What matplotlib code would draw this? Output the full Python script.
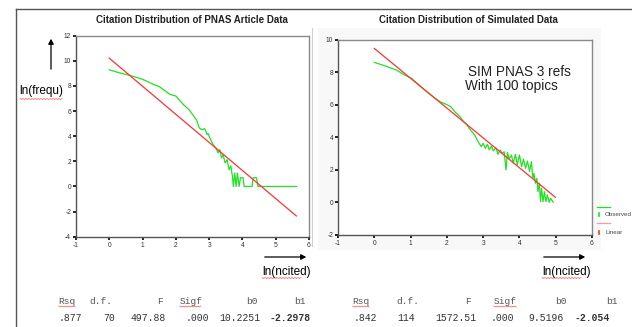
import matplotlib
matplotlib.use("Agg")
import matplotlib.pyplot as plt
from matplotlib.lines import Line2D
from matplotlib.patches import Rectangle, FancyArrowPatch
import numpy as np

# ---------------- data ----------------
left_obs_x = [0, 0.3, 0.67, 1.0, 1.32, 1.5, 1.82, 2.0, 2.22, 2.4, 2.5, 2.62, 2.7, 2.77, 2.87,
              2.94, 2.97, 3.02, 3.12, 3.2, 3.27, 3.32, 3.37, 3.42, 3.48, 3.54, 3.6, 3.65, 3.7,
              3.73, 3.77, 3.81, 3.85, 3.9, 3.94, 4.02, 4.05, 4.29, 4.32, 4.42, 4.47, 5.62]
left_obs_y = [9.28, 9.05, 8.8, 8.53, 8.13, 7.95, 7.33, 7.2, 6.53, 6.1, 5.73, 5.3, 4.67, 4.53, 4.59,
              4.13, 4.21, 3.87, 3.33, 3.07, 2.67, 2.93, 2.27, 2.53, 1.87, 2.13, 1.33, 1.65, 0.8,
              0.0, 1.07, 0.0, 1.07, 0.0, 0.69, 0.69, 0.0, 0.0, 0.69, 0.69, 0.0, 0.0]
left_lin_x = [0.0, 5.62]
left_lin_y = [10.21, -2.35]

right_obs_x = [0, 0.29, 0.61, 0.84, 1.03, 1.21, 1.39, 1.62, 1.81, 1.99, 2.11, 2.22, 2.36, 2.45,
               2.54, 2.63, 2.77, 2.86, 2.95, 3.0, 3.06, 3.12, 3.17, 3.23, 3.28, 3.35, 3.41, 3.47,
               3.52, 3.58, 3.63, 3.67, 3.72, 3.78, 3.83, 3.89, 3.94, 4.0, 4.06, 4.11, 4.17, 4.22,
               4.28, 4.33, 4.37, 4.4, 4.44, 4.48, 4.51, 4.55, 4.58, 4.61, 4.65, 4.69, 4.73, 4.77,
               4.82, 4.86, 4.93]
right_obs_y = [8.61, 8.40, 8.14, 7.83, 7.62, 7.25, 6.91, 6.5, 6.19, 6.02, 5.88, 5.57, 5.27, 5.0,
               4.8, 4.51, 4.14, 3.73, 3.42, 3.63, 3.32, 3.57, 3.22, 3.46, 3.16, 3.36, 2.95, 3.22,
               3.01, 3.11, 1.99, 3.07, 2.66, 2.91, 2.4, 2.95, 2.3, 2.91, 2.19, 2.66, 2.09, 2.54,
               1.89, 2.5, 1.48, 1.78, 1.17, 1.48, 0.66, 1.17, 0.04, 0.86, 0.04, 0.66, 0.04, 0.45,
               0.0, 0.25, 0.0]
right_lin_x = [0.0, 4.99]
right_lin_y = [9.47, 0.31]

left_title = "Citation Distribution of PNAS Article Data"
right_title = "Citation Distribution of Simulated Data"
left_yticks = [-4, -2, 0, 2, 4, 6, 8, 10, 12]
right_yticks = [-2, 0, 2, 4, 6, 8, 10]
xticks = [-1, 0, 1, 2, 3, 4, 5, 6]

table_headers = ["Rsq", "d.f.", "F", "Sigf", "b0", "b1"]
left_values = [".877", "70", "497.88", ".000", "10.2251", "-2.2978"]
right_values = [".842", "114", "1572.51", ".000", "9.5196", "-2.054"]
annotation_lines = ["SIM PNAS 3 refs", "With 100 topics"]
legend_labels = ["Observed", "Linear"]

GREEN = "#22e022"
RED = "#ff3333"

W, H = 632, 327
fig = plt.figure(figsize=(W / 100, H / 100), dpi=100)
fig.patch.set_facecolor("white")


def fx(px):
    return px / W


def fy(py):
    return 1 - py / H


def axes_box(l, r, t, b):
    return [fx(l), fy(b), fx(r) - fx(l), fy(t) - fy(b)]


# light background behind right chart
fig.add_artist(Rectangle((fx(318), fy(250)), fx(601) - fx(318), fy(28) - fy(250),
                         transform=fig.transFigure, facecolor="#f8f8f8", edgecolor="none", zorder=0))
fig.add_artist(Line2D([fx(312), fx(312)], [fy(28), fy(246)], transform=fig.transFigure,
                      color="#d0d0d0", lw=0.8))

# outer frame
fig.add_artist(Line2D([fx(16), fx(16)], [fy(9), fy(327)], transform=fig.transFigure,
                      color="#555555", lw=1.0))
fig.add_artist(Line2D([fx(16), fx(632)], [fy(9), fy(9)], transform=fig.transFigure,
                      color="#555555", lw=1.0))


def style_axes(ax, ylim, yticks):
    ax.set_facecolor("white")
    ax.set_xlim(-1, 6)
    ax.set_ylim(*ylim)
    ax.set_xticks(xticks)
    ax.set_yticks(yticks)
    ax.set_xticklabels([str(t) for t in xticks], fontsize=4.8, color="#333333",
                       family="Liberation Sans")
    ax.set_yticklabels([str(t) for t in yticks], fontsize=4.8, color="#333333",
                       family="Liberation Sans")
    ax.tick_params(axis="both", direction="out", length=2, width=1.4, color="#222222", pad=1.5)
    for s in ax.spines.values():
        s.set_color("#8a8a8a")
        s.set_linewidth(1.0)
    ax.spines["left"].set_color("#555555")
    ax.spines["bottom"].set_color("#555555")


axL = fig.add_axes(axes_box(76, 309, 35.7, 236.7))
style_axes(axL, (-4, 12), left_yticks)
axL.plot(left_obs_x, left_obs_y, color=GREEN, lw=0.9, zorder=3)
axL.plot(left_lin_x, left_lin_y, color=RED, lw=0.9, zorder=4)

axR = fig.add_axes(axes_box(338, 592, 39.8, 234.8))
style_axes(axR, (-2, 10), right_yticks)
axR.plot(right_obs_x, right_obs_y, color=GREEN, lw=0.9, zorder=3)
axR.plot(right_lin_x, right_lin_y, color=RED, lw=0.9, zorder=4)

# titles
fig.text(fx(192), fy(20), left_title, ha="center", va="center", fontsize=7,
         fontweight="bold", family="Liberation Sans", color="#222222")
fig.text(fx(468), fy(20), right_title, ha="center", va="center", fontsize=7,
         fontweight="bold", family="Liberation Sans", color="#222222")

# annotation in right plot
fig.text(fx(468), fy(72), annotation_lines[0], ha="left", va="center", fontsize=9.8,
         family="Liberation Sans", color="#222222")
fig.text(fx(465), fy(86), annotation_lines[1], ha="left", va="center", fontsize=9.8,
         family="Liberation Sans", color="#222222")

# axis labels with arrows
fig.text(fx(41), fy(91), "ln(frequ)", ha="center", va="center", fontsize=8.5,
         family="Liberation Sans", color="black")
fig.add_artist(FancyArrowPatch((fx(51), fy(72)), (fx(51), fy(36)), transform=fig.transFigure,
                               arrowstyle="-|>,head_length=3,head_width=1.6", color="black", lw=0.9))
for x0, x1, xc in [(262, 309, 287), (541, 588, 567)]:
    fig.add_artist(FancyArrowPatch((fx(x0), fy(257)), (fx(x1), fy(257)), transform=fig.transFigure,
                                   arrowstyle="-|>,head_length=3,head_width=1.6", color="black", lw=0.9))
    fig.text(fx(xc), fy(272), "ln(ncited)", ha="center", va="center", fontsize=8.5,
             family="Liberation Sans", color="black")


def squiggle(x0, x1, y):
    xs = np.arange(x0, x1 + 0.1, 1.5)
    ys = y + np.where(np.arange(len(xs)) % 2 == 0, -0.5, 0.5)
    fig.add_artist(Line2D(fx(xs), fy(ys), transform=fig.transFigure, color="#ff5555", lw=0.5))


squiggle(20, 63, 99)
squiggle(262, 302, 278)
squiggle(542, 582, 278)

# legend
fig.add_artist(Line2D([fx(597), fx(610)], [fy(207), fy(207)], transform=fig.transFigure,
                      color=GREEN, lw=0.9))
fig.add_artist(Line2D([fx(598.5), fx(598.5)], [fy(212.5), fy(215.5)], transform=fig.transFigure,
                      color=GREEN, lw=1.2))
fig.text(fx(605), fy(214), legend_labels[0], ha="left", va="center", fontsize=4.5,
         family="Liberation Sans", color="#444444")
fig.add_artist(Line2D([fx(597), fx(610)], [fy(223), fy(223)], transform=fig.transFigure,
                      color="#ff9999", lw=0.9))
fig.add_artist(Line2D([fx(598.5), fx(598.5)], [fy(230.5), fy(233.5)], transform=fig.transFigure,
                      color=RED, lw=1.2))
fig.text(fx(605), fy(232), legend_labels[1], ha="left", va="center", fontsize=4.5,
         family="Liberation Sans", color="#444444")

# statistics tables
left_hdr_cx = [67, 101, 160, 191, 252, 300]
left_val_cx = [70, 109, 148, 197, 240, 290]
right_hdr_cx = [361, 408, 468, 505, 561, 612]
right_val_cx = [365, 406, 456, 502, 546, 592]

for hdr_cx, val_cx, vals in [(left_hdr_cx, left_val_cx, left_values),
                             (right_hdr_cx, right_val_cx, right_values)]:
    for i, (h, cx) in enumerate(zip(table_headers, hdr_cx)):
        fig.text(fx(cx), fy(302), h, ha="center", va="center", fontsize=6.8,
                 family="Liberation Mono", color="#555555")
        if h in ("Rsq", "Sigf"):
            half = 2.8 * len(h)
            squiggle(cx - half, cx + half, 306.5)
    for i, (v, cx) in enumerate(zip(vals, val_cx)):
        fig.text(fx(cx), fy(318), v, ha="center", va="center", fontsize=7,
                 family="Liberation Mono", color="#333333",
                 fontweight="bold" if i == len(vals) - 1 else "normal")

fig.savefig("out.png", dpi=100, facecolor="white")
